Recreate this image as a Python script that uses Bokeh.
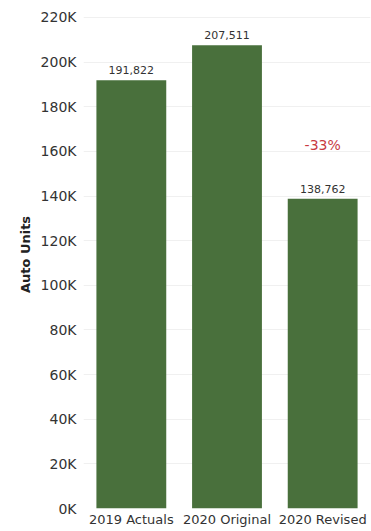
from bokeh.plotting import figure
from bokeh.models import FixedTicker, ColumnDataSource, Label, LabelSet, Range1d
from bokeh.embed import file_html
from bokeh.resources import INLINE
from bokeh.core.properties import value

categories = ["2019 Actuals", "2020 Original", "2020 Revised"]
units = [191822, 207511, 138762]
value_labels = ["191,822", "207,511", "138,762"]
tick_values = [0, 20000, 40000, 60000, 80000, 100000, 120000, 140000, 160000, 180000, 200000, 220000]
tick_labels = ["0K", "20K", "40K", "60K", "80K", "100K", "120K", "140K", "160K", "180K", "200K", "220K"]
change_label = "-33%"
change_value = 163000

FONT = "DejaVu Sans"
BAR = "#49703c"
TXT = "#333333"

source = ColumnDataSource(dict(cat=categories, units=units, lab=value_labels))

p = figure(width=371, height=531, x_range=categories, y_range=Range1d(0, 227600),
           output_backend="svg", toolbar_location=None,
           min_border_left=83, min_border_right=1, min_border_top=0, min_border_bottom=23)

p.vbar(x="cat", top="units", width=0.73, source=source, color=BAR, line_color=None)

labels = LabelSet(x="cat", y="units", text="lab", source=source, text_align="center",
                  text_baseline="middle", y_offset=10, text_font=value(FONT),
                  text_font_size="11px", text_color=TXT)
p.add_layout(labels)

p.add_layout(Label(x=2.5, y=change_value, text=change_label, text_align="center",
                   text_baseline="middle", text_font=FONT, text_font_size="14px",
                   text_color="#c83a3f"))

p.outline_line_color = None
p.xgrid.grid_line_color = None
p.ygrid.grid_line_color = "#f0f0f0"
p.ygrid.ticker = FixedTicker(ticks=tick_values)

p.yaxis.ticker = FixedTicker(ticks=tick_values)
p.yaxis.major_label_overrides = {v: l for v, l in zip(tick_values, tick_labels)}
p.yaxis.axis_label = "Auto Units"
p.yaxis.axis_label_text_font = FONT
p.yaxis.axis_label_text_font_style = "bold"
p.yaxis.axis_label_text_font_size = "13px"
p.yaxis.axis_label_text_color = "#222222"
p.yaxis.axis_label_standoff = 5
p.yaxis.major_label_standoff = 1

for ax in (p.xaxis, p.yaxis):
    ax.axis_line_color = None
    ax.major_tick_line_color = None
    ax.minor_tick_line_color = None
    ax.major_label_text_font = FONT
    ax.major_label_text_color = TXT

p.yaxis.major_label_text_font_size = "14px"
p.xaxis.major_label_text_font_size = "13px"
p.xaxis.major_label_standoff = -3
p.x_range.range_padding = 0

open("out.html", "w").write(file_html(p, INLINE))
